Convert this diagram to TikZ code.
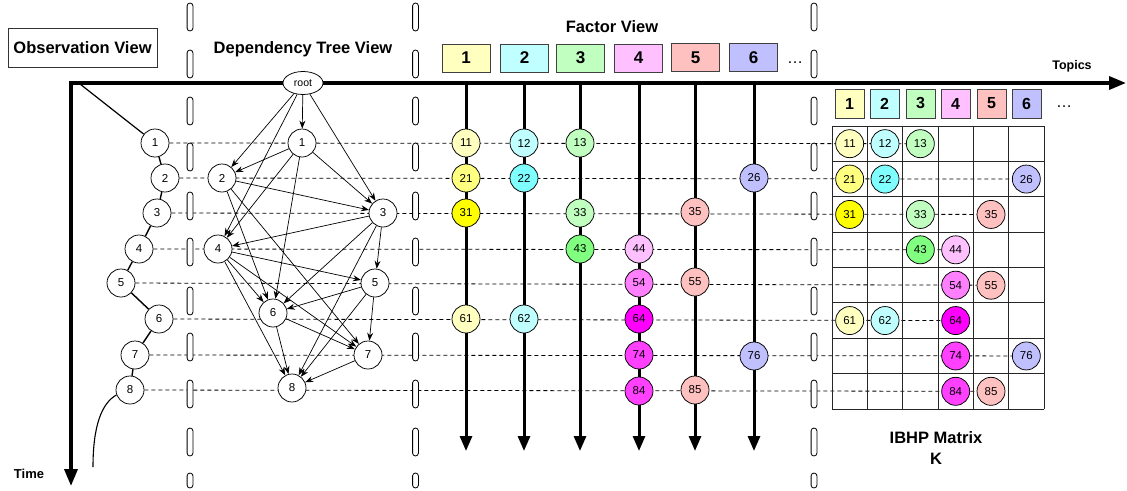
\documentclass[tikz,border=0pt]{standalone}
\usepackage{fontspec}
\setmainfont{Liberation Sans}
\usetikzlibrary{arrows.meta,shapes.geometric}
\pgfdeclarelayer{bg}
\pgfdeclarelayer{mid}
\pgfsetlayers{bg,mid,main}
\definecolor{yA}{HTML}{FFFFC0}
\definecolor{yB}{HTML}{FFFF80}
\definecolor{yC}{HTML}{FFFF00}
\definecolor{cA}{HTML}{C0FFFF}
\definecolor{cB}{HTML}{80FFFF}
\definecolor{gA}{HTML}{C0FFC0}
\definecolor{gB}{HTML}{80FF80}
\definecolor{pA}{HTML}{FFC0FF}
\definecolor{pB}{HTML}{FF80FF}
\definecolor{pC}{HTML}{FF00FF}
\definecolor{pD}{HTML}{FF40FF}
\definecolor{sA}{HTML}{FFC0C0}
\definecolor{lA}{HTML}{C0C0FF}
\tikzset{
  cnode/.style={circle, draw=black, line width=0.75pt, minimum size=28pt, inner sep=0pt,
    font=\fontsize{11.5}{11.5}\selectfont, fill=white},
  fnode/.style={cnode, fill=#1},
  hbox/.style={draw=black!75, line width=0.9pt, minimum width=48pt, minimum height=28pt,
    inner sep=0pt, font=\fontsize{17}{17}\selectfont\bfseries, fill=#1},
  mbox/.style={hbox=#1, minimum width=29pt, minimum height=29pt,
    font=\fontsize{16}{16}\selectfont\bfseries},
  rowline/.style={dash pattern=on 4pt off 3pt, line width=0.8pt, black},
  mainaxis/.style={line width=3.5pt},
  fline/.style={line width=3pt, -{Triangle[length=15pt,width=12pt]}},
  tedge/.style={line width=0.7pt, -{Stealth[length=8pt,width=6pt]}},
  ttl/.style={font=\fontsize{16.5}{21}\selectfont\bfseries, inner sep=0pt},
  pillst/.style={draw=black, line width=0.8pt, fill=white, rounded corners=2.9pt},
  gridline/.style={line width=0.8pt, black!85}
}
\begin{document}
\begin{tikzpicture}[x=1pt,y=1pt]
\useasboundingbox (0,0) rectangle (1127,-490);

% ---------- titles ----------
\node[draw=black!80, line width=0.8pt, minimum width=149pt, minimum height=39pt, inner sep=0pt,
  font=\fontsize{16.5}{20}\selectfont\bfseries] (obsview) at (82.5,-47.5) {Observation View};
\node[ttl] (deptitle) at (303,-49) {Dependency Tree View};
\node[ttl] (factitle) at (612,-27) {Factor View};
\node[font=\fontsize{12.5}{14}\selectfont\bfseries, inner sep=0pt] (topics) at (1072,-66) {Topics};
\node[font=\fontsize{13}{14}\selectfont\bfseries, inner sep=0pt] (time) at (29,-474) {Time};
\node[ttl, align=center] (ibhp) at (936,-448) {IBHP Matrix\\K};

% ---------- factor header boxes ----------
\node[hbox=yA] (h1) at (466,-58) {1};
\node[hbox=cA] (h2) at (524.5,-58) {2};
\node[hbox=gA] (h3) at (580.5,-58) {3};
\node[hbox=pA] (h4) at (638.5,-58) {4};
\node[hbox=sA] (h5) at (695.5,-57.5) {5};
\node[hbox=lA] (h6) at (753.5,-57.5) {6};
\node[font=\fontsize{16}{16}\selectfont, inner sep=0pt] (hdots) at (795,-63) {\dots};

% ---------- matrix header boxes ----------
\node[mbox=yA] (mh1) at (849.5,-103.5) {1};
\node[mbox=cA] (mh2) at (884.5,-103.5) {2};
\node[mbox=gA] (mh3) at (920.5,-103.5) {3};
\node[mbox=pA] (mh4) at (955.5,-103.5) {4};
\node[mbox=sA] (mh5) at (991.5,-103.5) {5};
\node[mbox=lA] (mh6) at (1026.5,-103.5) {6};
\node[font=\fontsize{16}{16}\selectfont, inner sep=0pt] (mdots) at (1064,-107) {\dots};

% ---------- observation nodes ----------
\node[cnode] (o1) at (155,-143) {1};
\node[cnode] (o2) at (165,-178) {2};
\node[cnode] (o3) at (157,-213) {3};
\node[cnode] (o4) at (139,-249) {4};
\node[cnode] (o5) at (121,-283) {5};
\node[cnode] (o6) at (159,-319) {6};
\node[cnode] (o7) at (135,-355) {7};
\node[cnode] (o8) at (130,-390) {8};

% ---------- dependency tree nodes ----------
\node[ellipse, draw=black, line width=0.75pt, fill=white, minimum width=40pt, minimum height=23pt,
  inner sep=0pt, font=\fontsize{10.5}{10.5}\selectfont] (root) at (303,-83) {root};
\node[cnode] (t1) at (302,-143) {1};
\node[cnode] (t2) at (222,-178) {2};
\node[cnode] (t3) at (383,-213) {3};
\node[cnode] (t4) at (218,-249) {4};
\node[cnode] (t5) at (375,-283) {5};
\node[cnode] (t6) at (273,-313) {6};
\node[cnode] (t7) at (368,-355) {7};
\node[cnode] (t8) at (292,-388) {8};

% ---------- factor and matrix nodes ----------
\foreach \lab/\fx/\ry/\c/\r/\col in {
  11/466/143/1/1/yA, 12/524/143/2/1/cA, 13/580/143/3/1/gA,
  21/466/178/1/2/yB, 22/524/178/2/2/cB, 26/754/178/6/2/lA,
  31/466/213/1/3/yC, 33/580/213/3/3/gA, 35/695/212/5/3/sA,
  43/580/249/3/4/gB, 44/639/249/4/4/pA,
  54/639/283/4/5/pB, 55/695/282/5/5/sA,
  61/466/319/1/6/yA, 62/524/319/2/6/cA, 64/639/319/4/6/pC,
  74/639/355/4/7/pD, 76/754/356/6/7/lA,
  84/639/391/4/8/pD, 85/695/390/5/8/sA}
{
  \node[fnode=\col] (f\lab) at (\fx,-\ry) {\lab};
  \node[fnode=\col] (m\lab) at ({832+35.333*(\c-0.5)},{-126-35.375*(\r-0.5)}) {\lab};
}

% ---------- coordinates ----------
\coordinate (corner) at (71,-83);
\coordinate (xend) at (1126,-83);
\coordinate (yend) at (71,-486);
\coordinate (diagstart) at (80,-84);
\coordinate (tcurve) at (93,-467);

% ---------- background: dashed row lines ----------
\begin{pgfonlayer}{bg}
\draw[rowline] (o1) -- (m13);
\draw[rowline] (o2) -- (m26);
\draw[rowline] (o3) -- (m35);
\draw[rowline] (o4) -- (m44);
\draw[rowline] (o5) -- (m55);
\draw[rowline] (o6) -- (m64);
\draw[rowline] (o7) -- (m76);
\draw[rowline] (o8) -- (m85);
\end{pgfonlayer}

% ---------- middle layer ----------
\begin{pgfonlayer}{mid}
% separators
\foreach \sx in {190,415.5,814}{
  \foreach \sy in {3,50,97,143,192,238,287,333,380,428}{
    \draw[pillst] (\sx-2.9,-\sy) rectangle (\sx+2.9,-\sy-28);
  }
  \draw[pillst] (\sx-2.9,-473) rectangle (\sx+2.9,-488);
}
% matrix grid
\foreach \i in {0,...,6}{
  \draw[gridline] ({832+35.333*\i},-126) -- ({832+35.333*\i},-409);
}
\foreach \j in {0,...,8}{
  \draw[gridline] (832,{-126-35.375*\j}) -- (1044,{-126-35.375*\j});
}
% main axes
\draw[mainaxis, {Triangle[length=17pt,width=13pt]}-{Triangle[length=17pt,width=13pt]}]
  (yend) -- (corner) -- (xend);
% factor lines
\foreach \k/\fx in {1/466,2/524,3/580,4/639,5/695,6/754}{
  \coordinate (ftop\k) at (\fx,-83);
  \coordinate (fbot\k) at (\fx,-451);
  \draw[fline] (ftop\k) -- (fbot\k);
}
% observation chain
\draw[line width=1.2pt] (diagstart) -- (o1);
\draw[line width=1.4pt] (o1) -- (o2) -- (o3) -- (o4) -- (o5) -- (o6) -- (o7) -- (o8);
\draw[line width=1.1pt] (o8.200) .. controls (102,-403) and (93,-425) .. (tcurve);
% tree edges
\foreach \a/\b in {root/t1, root/t2, root/t3, root/t4,
  t1/t2, t1/t3, t1/t4, t1/t6,
  t2/t3, t2/t6, t2/t7,
  t3/t4, t3/t5, t3/t6, t3/t8,
  t4/t5, t4/t6, t4/t7, t4/t8,
  t5/t6, t5/t7, t5/t8,
  t6/t7, t6/t8, t7/t8}{
  \draw[tedge] (\a) -- (\b);
}
\end{pgfonlayer}
\end{tikzpicture}
\end{document}
